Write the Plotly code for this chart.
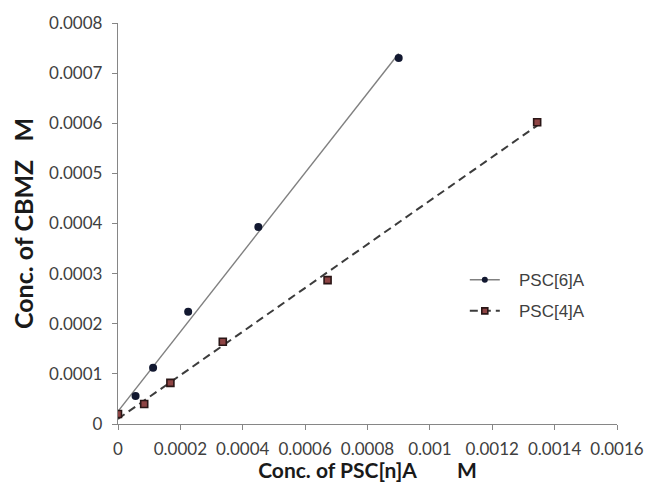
import numpy as np
import plotly.graph_objects as go

# PSC[6]A series
x6 = [0.0, 0.0000563, 0.0001125, 0.000225, 0.00045, 0.0009]
y6 = [0.00002, 0.000056, 0.000112, 0.000224, 0.000393, 0.00073]

# PSC[4]A series
x4 = [0.0, 0.000084, 0.000168, 0.000336, 0.000672, 0.001344]
y4 = [0.00002, 0.00004, 0.000082, 0.000164, 0.000287, 0.000602]

x_ticks = [0, 0.0002, 0.0004, 0.0006, 0.0008, 0.001, 0.0012, 0.0014, 0.0016]
x_tick_text = ["0", "0.0002", "0.0004", "0.0006", "0.0008", "0.001", "0.0012", "0.0014", "0.0016"]
y_ticks = [0, 0.0001, 0.0002, 0.0003, 0.0004, 0.0005, 0.0006, 0.0007, 0.0008]
y_tick_text = ["0", "0.0001", "0.0002", "0.0003", "0.0004", "0.0005", "0.0006", "0.0007", "0.0008"]

LINE6 = dict(color="#808080", width=1.4)
LINE4 = dict(color="#3c3c3c", width=2, dash="8px,5px")
MARK6 = dict(symbol="circle", size=8, color="#121830")
MARK4 = dict(symbol="square", size=7, color="#8e4444", line=dict(color="#2a1616", width=1.6))

NBSP = "\u00a0"


def fit_line(x, y):
    slope, intercept = np.polyfit(x, y, 1)
    xs = np.array([min(x), max(x)])
    return xs, slope * xs + intercept


fig = go.Figure()

# linear trend lines, under the markers
lx6, ly6 = fit_line(x6, y6)
lx4, ly4 = fit_line(x4, y4)
fig.add_trace(go.Scatter(x=lx6, y=ly6, mode="lines", showlegend=False,
                         line=LINE6, hoverinfo="skip"))
fig.add_trace(go.Scatter(x=lx4, y=ly4, mode="lines", showlegend=False,
                         line=LINE4, hoverinfo="skip"))

# measured points
fig.add_trace(go.Scatter(x=x6, y=y6, mode="markers", showlegend=False, marker=MARK6))
fig.add_trace(go.Scatter(x=x4, y=y4, mode="markers", showlegend=False, marker=MARK4))

# legend entries: line + marker samples
fig.add_trace(go.Scatter(x=[None], y=[None], mode="lines+markers", name=NBSP * 3 + "PSC[6]A",
                         line=LINE6, marker=dict(MARK6, size=6), legendgroup="a"))
fig.add_trace(go.Scatter(x=[None], y=[None], mode="lines+markers", name=NBSP * 3 + "PSC[4]A",
                         line=LINE4, marker=dict(MARK4, size=6), legendgroup="b"))

axis_common = dict(
    showgrid=False, zeroline=False, showline=True, linecolor="#868686", linewidth=1.3,
    ticks="outside", ticklen=5, tickcolor="#868686", tickwidth=1.3,
    tickfont=dict(family="Lato", size=17, color="#404040"),
    automargin=False,
)

fig.update_layout(
    width=645, height=482,
    margin=dict(l=118, r=28, t=23, b=58),
    paper_bgcolor="white", plot_bgcolor="white",
    xaxis=dict(range=[0, 0.0016], tickvals=x_ticks, ticktext=x_tick_text,
               ticklabelstandoff=4,
               title=dict(text="Conc. of PSC[n]A" + NBSP * 8 + "M", standoff=9,
                          font=dict(family="Lato", size=21, color="#1a1a1a", weight="bold")),
               **axis_common),
    yaxis=dict(range=[0, 0.0008], tickvals=y_ticks, ticktext=y_tick_text,
               ticklabelstandoff=6,
               title=dict(text="Conc. of CBMZ" + NBSP * 3 + "M", standoff=8,
                          font=dict(family="Lato", size=25, color="#1a1a1a", weight="bold")),
               **axis_common),
    legend=dict(x=0.695, y=0.32, xanchor="left", yanchor="middle",
                font=dict(family="Liberation Sans", size=17, color="#404040"),
                bgcolor="rgba(0,0,0,0)", tracegroupgap=6),
)

fig.write_html("out.html")
